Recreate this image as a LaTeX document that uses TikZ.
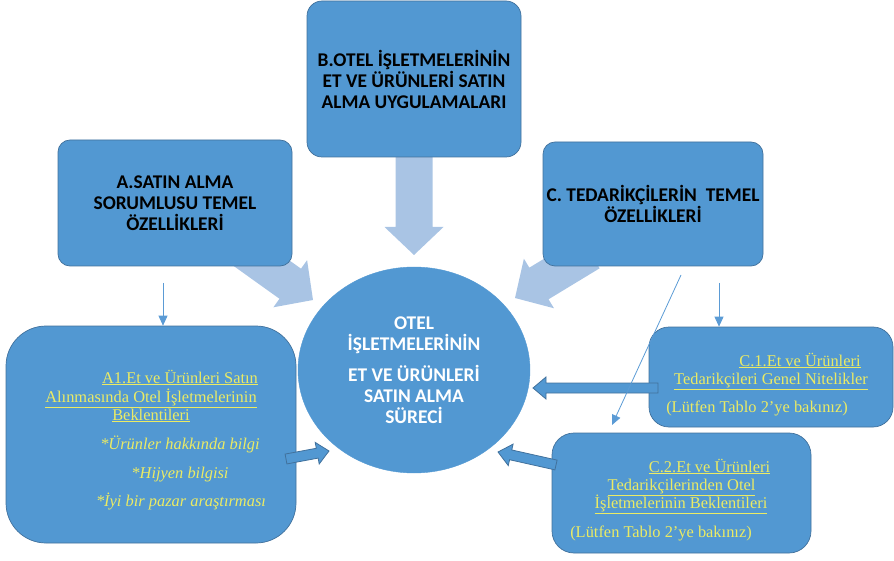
\documentclass[tikz,border=0pt]{standalone}
\usepackage{fontspec}
\setmainfont{Liberation Serif}
\newfontfamily\carlito{Carlito}
\usetikzlibrary{calc,arrows.meta,shapes.geometric}
\definecolor{boxblue}{RGB}{82,152,210}
\definecolor{boxline}{RGB}{65,113,156}
\definecolor{lightarrow}{RGB}{169,196,228}
\definecolor{thinblue}{RGB}{91,155,213}
\definecolor{ytext}{RGB}{235,235,100}
\newcommand\ulin[1]{\underline{#1}}
% #1 style, #2 tail, #3 tip, #4 half shaft, #5 half head, #6 head length
\newcommand\blockarrow[6]{%
  \coordinate (ba-h) at ($(#3)!#6!(#2)$);
  \path[#1] ($(#2)!#4!90:(#3)$) -- ($(ba-h)!#4!90:(#3)$) -- ($(ba-h)!#5!90:(#3)$) -- (#3)
     -- ($(ba-h)!#5!-90:(#3)$) -- ($(ba-h)!#4!-90:(#3)$) -- ($(#2)!#4!-90:(#3)$) -- cycle;
}
\tikzset{
  box/.style={rectangle, rounded corners=#1, fill=boxblue, draw=boxline, line width=0.7pt, inner sep=0pt},
  box/.default=12pt,
  hdr/.style={font={\carlito\bfseries\fontsize{19.4}{21}\selectfont}, align=center, text=black},
  ctr/.style={font={\carlito\bfseries\fontsize{19.4}{21}\selectfont}, align=center, text=white},
  ylw/.style={text=ytext, font={\fontsize{16.4}{18}\selectfont}, anchor=base, inner sep=0pt},
  yit/.style={text=ytext, font={\itshape\fontsize{16.4}{18}\selectfont}, anchor=base, inner sep=0pt},
  lightarr/.style={fill=lightarrow},
  medarr/.style={fill=boxblue, draw=boxline, line width=0.8pt},
  thinarr/.style={draw=thinblue, line width=0.8pt, -{Triangle[width=9pt,length=10pt]}},
}
\begin{document}
\begin{tikzpicture}[x=1pt,y=-1pt]
\useasboundingbox (0,0) rectangle (894,561);
% coordinates for the fat arrows
\coordinate (aTail) at (241,248.5);
\coordinate (aTip) at (313,300);
\coordinate (cTail) at (590,252.5);
\coordinate (cTip) at (515,298);
\coordinate (bTail) at (414,150);
\coordinate (bTip) at (414,255);
% light arrows (below boxes)
\blockarrow{lightarr}{aTail}{aTip}{18.5pt}{29pt}{28pt}
\blockarrow{lightarr}{cTail}{cTip}{18.5pt}{29pt}{28pt}
\blockarrow{lightarr}{bTail}{bTip}{18.5pt}{29.5pt}{28pt}
% top boxes
\node[box=12pt, minimum width=234pt, minimum height=126pt, hdr] (A) at (175,203) {A.SATIN ALMA\\SORUMLUSU TEMEL\\ÖZELLİKLERİ};
\node[box=15pt, minimum width=214pt, minimum height=156pt, hdr] (B) at (414,79) {B.OTEL İŞLETMELERİNİN\\ET VE ÜRÜNLERİ SATIN\\ALMA UYGULAMALARI};
\node[box=12pt, minimum width=220pt, minimum height=124pt, hdr] (C) at (653,204) {C. TEDARİKÇİLERİN\ \ TEMEL\\ÖZELLİKLERİ};
% central ellipse
\node[ellipse, fill=boxblue, draw=boxblue, minimum width=232pt, minimum height=206pt, inner sep=0pt, ctr] (P) at (414,370) {OTEL\\İŞLETMELERİNİN\\[10pt]ET VE ÜRÜNLERİ\\SATIN ALMA\\SÜRECİ};
% lower boxes
\node[box=40pt, minimum width=290pt, minimum height=217pt] (A1) at (151,434.5) {};
\node[box=20pt, minimum width=244pt, minimum height=100pt] (C1) at (771,377) {};
\node[box=22pt, minimum width=259pt, minimum height=120pt] (C2) at (681.5,493) {};
% medium arrows
\coordinate (c1Tail) at (658,388);
\coordinate (c1Tip) at (533,388);
\coordinate (c2Tail) at (556,465);
\coordinate (c2Tip) at (498,452);
\coordinate (a1Tail) at (286,459);
\coordinate (a1Tip) at (329,451);
\blockarrow{medarr}{c1Tail}{c1Tip}{5pt}{11pt}{13pt}
\blockarrow{medarr}{c2Tail}{c2Tip}{5pt}{11pt}{13pt}
\blockarrow{medarr}{a1Tail}{a1Tip}{5pt}{11pt}{12pt}
% texts of A1
\node[ylw] (a1l1) at (180,383) {\ulin{A1.Et ve Ürünleri Satın}};
\node[ylw] (a1l2) at (151,402) {\ulin{Alınmasında Otel İşletmelerinin}};
\node[ylw] (a1l3) at (151,420) {\ulin{Beklentileri}};
\node[yit] (a1l4) at (180,449) {*Ürünler hakkında bilgi};
\node[yit] (a1l5) at (180,478) {*Hijyen bilgisi};
\node[yit] (a1l6) at (181,506) {*İyi bir pazar araştırması};
% texts of C1
\node[ylw] (c1l1) at (800,366) {\ulin{C.1.Et ve Ürünleri}};
\node[ylw] (c1l2) at (771,384) {\ulin{Tedarikçileri Genel Nitelikler}};
\node[ylw] (c1l3) at (757,412) {(Lütfen Tablo 2’ye bakınız)};
% texts of C2
\node[ylw] (c2l1) at (709.5,472) {\ulin{C.2.Et ve Ürünleri}};
\node[ylw] (c2l2) at (681.5,490) {\ulin{Tedarikçilerinden Otel}};
\node[ylw] (c2l3) at (681,508) {\ulin{İşletmelerinin Beklentileri}};
\node[ylw] (c2l4) at (661,537) {(Lütfen Tablo 2’ye bakınız)};
% thin arrows
\coordinate (t1s) at (163,283);
\coordinate (t2s) at (719,283);
\coordinate (t3s) at (681,275);
\coordinate (t3e) at (612,425);
\draw[thinarr] (t1s) -- (t1s |- A1.north);
\draw[thinarr] (t2s) -- (t2s |- C1.north);
\draw[thinarr] (t3s) -- (t3e);
\end{tikzpicture}
\end{document}
